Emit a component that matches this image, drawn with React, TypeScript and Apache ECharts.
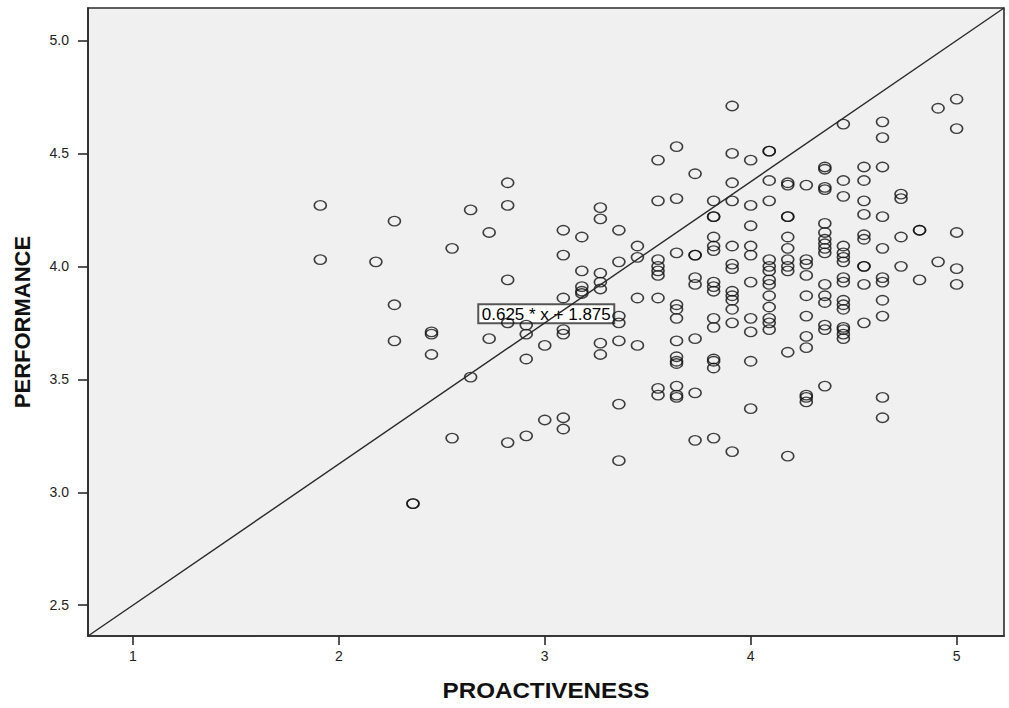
import React, { useEffect, useRef } from "react";
import * as echarts from "echarts";

// Proactiveness scores (mean of 11 items) and the performance scores observed at each level.
const proactivenessLevels = [
  1.91, 2.18, 2.27, 2.36, 2.45, 2.55, 2.64, 2.73, 2.82, 2.91, 3.0, 3.09, 3.18, 3.27, 3.36, 3.45,
  3.55, 3.64, 3.73, 3.82, 3.91, 4.0, 4.09, 4.18, 4.27, 4.36, 4.45, 4.55, 4.64, 4.73, 4.82, 4.91, 5.0,
];

const performanceByLevel = [
  [4.27, 4.03],
  [4.02],
  [4.2, 3.83, 3.67],
  [2.95, 2.95],
  [3.71, 3.7, 3.61],
  [4.08, 3.24],
  [4.25, 3.51],
  [4.15, 3.68],
  [4.37, 4.27, 3.94, 3.75, 3.22],
  [3.74, 3.7, 3.59, 3.25],
  [3.65, 3.32],
  [4.16, 4.05, 3.86, 3.72, 3.7, 3.33, 3.28],
  [4.13, 3.98, 3.91, 3.89, 3.88],
  [4.26, 4.21, 3.97, 3.93, 3.9, 3.66, 3.61],
  [4.16, 4.02, 3.78, 3.75, 3.67, 3.39, 3.14],
  [4.09, 4.04, 3.86, 3.65],
  [4.47, 4.29, 4.03, 4.0, 3.98, 3.96, 3.86, 3.46, 3.43],
  [4.53, 4.3, 4.06, 3.83, 3.81, 3.77, 3.67, 3.6, 3.58, 3.57, 3.47, 3.43, 3.42],
  [4.41, 4.05, 4.05, 3.95, 3.92, 3.68, 3.44, 3.23],
  [4.29, 4.22, 4.22, 4.13, 4.09, 4.07, 3.93, 3.91, 3.89, 3.77, 3.73, 3.59, 3.58, 3.55, 3.24],
  [4.71, 4.5, 4.37, 4.29, 4.09, 4.01, 3.99, 3.89, 3.87, 3.85, 3.81, 3.75, 3.18],
  [4.47, 4.27, 4.18, 4.09, 4.05, 3.93, 3.77, 3.71, 3.58, 3.37],
  [4.51, 4.51, 4.38, 4.29, 4.03, 4.0, 3.98, 3.94, 3.92, 3.87, 3.82, 3.77, 3.75, 3.72],
  [4.37, 4.36, 4.22, 4.22, 4.13, 4.08, 4.03, 4.0, 3.98, 3.62, 3.16],
  [4.36, 4.03, 4.01, 3.96, 3.87, 3.78, 3.69, 3.64, 3.43, 3.42, 3.4],
  [4.44, 4.43, 4.35, 4.34, 4.19, 4.15, 4.12, 4.1, 4.08, 4.06, 3.92, 3.87, 3.84, 3.74, 3.72, 3.47],
  [4.63, 4.38, 4.31, 4.09, 4.06, 4.04, 4.02, 3.95, 3.93, 3.85, 3.83, 3.81, 3.73, 3.72, 3.7, 3.68],
  [4.44, 4.38, 4.29, 4.23, 4.14, 4.12, 4.0, 4.0, 3.92, 3.75],
  [4.64, 4.57, 4.44, 4.22, 4.08, 3.95, 3.93, 3.85, 3.78, 3.42, 3.33],
  [4.32, 4.3, 4.13, 4.0],
  [4.16, 4.16, 3.94],
  [4.7, 4.02],
  [4.74, 4.61, 4.15, 3.99, 3.92],
];

// Linear fit line: PERFORMANCE = slope * PROACTIVENESS + intercept
const fitSlope = 0.625;
const fitIntercept = 1.875;

// Axis tick labels
const xTickValues = [1, 2, 3, 4, 5];
const yTickValues = [2.5, 3.0, 3.5, 4.0, 4.5, 5.0];

const xTitle = "PROACTIVENESS";
const yTitle = "PERFORMANCE";

// Axis extents; the fit line runs from corner to corner of the plot frame
const X_MIN = 0.782;
const X_MAX = 5.23;
const fit = (x: number) => fitSlope * x + fitIntercept;
const Y_MIN = fit(X_MIN);
const Y_MAX = fit(X_MAX);

const FONT = '"Liberation Sans", Arial, sans-serif';
const ELLIPSE = "path://M0,5A6,5 0 1,1 12,5A6,5 0 1,1 0,5Z";

export default function App() {
  const ref = useRef<HTMLDivElement>(null);

  useEffect(() => {
    if (!ref.current) return;
    const chart = echarts.init(ref.current, undefined, { renderer: "svg" });

    const points: number[][] = [];
    proactivenessLevels.forEach((x, i) => {
      performanceByLevel[i].forEach((y) => points.push([x, y]));
    });

    const axisLineStyle = { color: "#2b2b2b", width: 1.6 };

    chart.setOption({
      animation: false,
      backgroundColor: "#ffffff",
      grid: {
        left: 88,
        top: 8,
        width: 916,
        height: 628,
        show: true,
        backgroundColor: "#f0f0f0",
        borderColor: "#2b2b2b",
        borderWidth: 1.6,
      },
      xAxis: {
        type: "value",
        min: X_MIN,
        max: X_MAX,
        splitLine: { show: false },
        axisLine: { show: true, lineStyle: axisLineStyle },
        axisTick: { show: true, length: 9, lineStyle: axisLineStyle, customValues: xTickValues },
        axisLabel: {
          customValues: xTickValues,
          fontSize: 14,
          color: "#222",
          fontFamily: FONT,
          margin: 13,
        },
      },
      yAxis: {
        type: "value",
        min: Y_MIN,
        max: Y_MAX,
        splitLine: { show: false },
        axisLine: { show: true, lineStyle: axisLineStyle },
        axisTick: { show: true, length: 10, lineStyle: axisLineStyle, customValues: yTickValues },
        axisLabel: {
          customValues: yTickValues,
          formatter: (v: number) => v.toFixed(1),
          fontSize: 14,
          color: "#222",
          fontFamily: FONT,
          margin: 19,
        },
      },
      series: [
        {
          type: "scatter",
          data: points,
          symbol: ELLIPSE,
          symbolSize: [12, 9.5],
          itemStyle: {
            color: "rgba(0,0,0,0)",
            borderColor: "#111",
            borderWidth: 1.5,
          },
          z: 2,
        },
        {
          type: "line",
          data: [
            [X_MIN, Y_MIN],
            [X_MAX, Y_MAX],
          ],
          symbol: "none",
          lineStyle: { color: "#2a2a2a", width: 1.4 },
          z: 3,
        },
      ],
    });

    // Equation label sitting on the fit line at PROACTIVENESS = 3
    const anchor = chart.convertToPixel({ gridIndex: 0 }, [3, fit(3)]) as number[];
    const boxW = 136;
    const boxH = 19;
    chart.setOption({
      graphic: [
        {
          id: "xTitle",
          type: "text",
          x: 546,
          y: 690,
          scaleX: 1.1,
          style: {
            text: xTitle,
            font: `bold 22px ${FONT}`,
            fill: "#111",
            align: "center",
            verticalAlign: "middle",
          },
        },
        {
          id: "yTitle",
          type: "text",
          x: 22,
          y: 322,
          rotation: Math.PI / 2,
          style: {
            text: yTitle,
            font: `bold 22px ${FONT}`,
            fill: "#111",
            align: "center",
            verticalAlign: "middle",
          },
        },
        {
          id: "fitLabel",
          type: "group",
          x: anchor[0] + 1.5 - boxW / 2,
          y: anchor[1] + 0.5 - boxH,
          z: 10,
          children: [
            {
              type: "rect",
              shape: { x: 0, y: 0, width: boxW, height: boxH },
              style: { fill: "#ffffff", stroke: "#555", lineWidth: 2 },
            },
            {
              type: "text",
              x: boxW / 2,
              y: boxH / 2 + 0.5,
              style: {
                text: `${fitSlope} * x + ${fitIntercept}`,
                font: `17px ${FONT}`,
                fill: "#000",
                align: "center",
                verticalAlign: "middle",
              },
            },
          ],
        },
      ],
    });

    return () => chart.dispose();
  }, []);

  return (
    <div
      ref={ref}
      style={{ position: "absolute", left: 0, top: 0, width: 1009, height: 708 }}
    />
  );
}
